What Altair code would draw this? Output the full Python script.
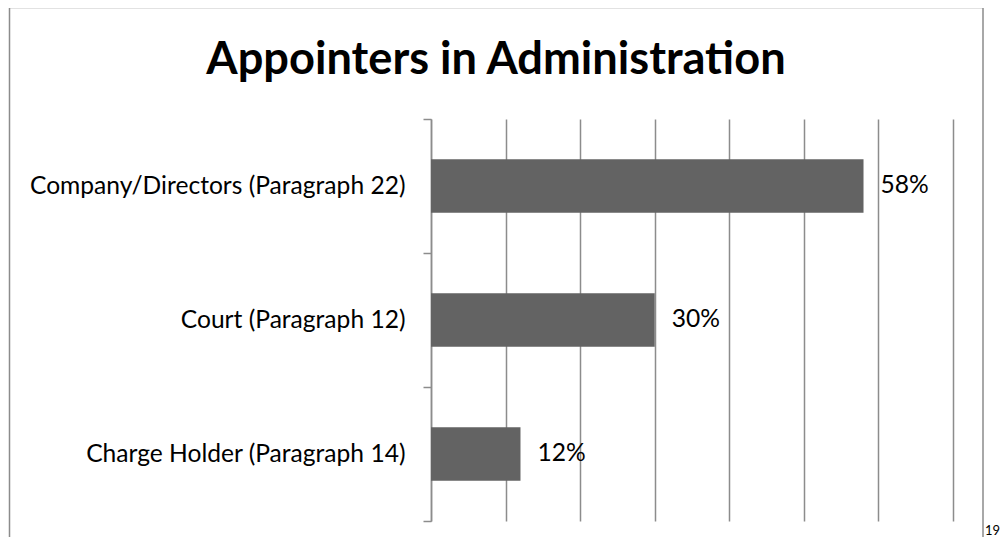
import altair as alt
import pandas as pd

categories = ["Company/Directors (Paragraph 22)", "Court (Paragraph 12)", "Charge Holder (Paragraph 14)"]
shares = [0.58, 0.30, 0.12]
grid_values = [0, 0.1, 0.2, 0.3, 0.4, 0.5, 0.6, 0.7]
title_text = "Appointers in Administration"
page_number = ["19"]

df = pd.DataFrame({"category": categories, "share": shares})

FONT = "Lato"
GRAY = "#8c8c8c"
BAR = "#636363"
LABEL_SIZE = 24.6

x_enc = alt.X(
    "share:Q",
    title=None,
    scale=alt.Scale(domain=[0, 0.7], nice=False, zero=True),
    axis=alt.Axis(values=grid_values, labels=False, ticks=False, domain=False,
                  grid=True, gridColor=GRAY, gridWidth=1.5, gridOpacity=1),
)
y_enc = alt.Y(
    "category:N",
    sort=categories,
    title=None,
    scale=alt.Scale(paddingInner=0, paddingOuter=0),
    axis=alt.Axis(tickBand="extent", tickSize=8, tickColor=GRAY, tickWidth=1.5,
                  domainColor=GRAY, domainWidth=1.5, labelFont=FONT, labelFontSize=LABEL_SIZE,
                  labelColor="black", labelPadding=18, labelLimit=600, grid=False),
)

bars = alt.Chart(df).mark_bar(color=BAR, height={"band": 0.4}).encode(x=x_enc, y=y_enc)

labels = alt.Chart(df).mark_text(
    align="left", baseline="middle", dx=17, font=FONT, fontSize=LABEL_SIZE, color="black"
).encode(x="share:Q", y=alt.Y("category:N", sort=categories), text=alt.Text("share:Q", format=".0%"))

frame = alt.Chart(pd.DataFrame({"f": [1]})).mark_rect(
    fill=None, filled=False, stroke=GRAY, strokeWidth=1.5
).encode(x=alt.value(-421.5), x2=alt.value(552), y=alt.value(-111.5), y2=alt.value(440))

page = alt.Chart(pd.DataFrame({"p": page_number})).mark_text(
    align="left", baseline="alphabetic", font=FONT, fontSize=13, color="black"
).encode(text="p:N", x=alt.value(554), y=alt.value(416))

chart = alt.layer(frame, bars, labels, page).properties(
    width=522,
    height=402,
    padding={"left": 423, "top": 111, "right": 47, "bottom": 16},
    autosize=alt.AutoSizeParams(type="none"),
    title=alt.TitleParams(title_text, font=FONT, fontSize=45.2, fontWeight="bold",
                          color="black", anchor="middle", dx=-196, offset=-112,
                          baseline="alphabetic"),
).configure_view(stroke=None)

chart.save("out.html", embed_options={"renderer": "svg", "actions": False})
